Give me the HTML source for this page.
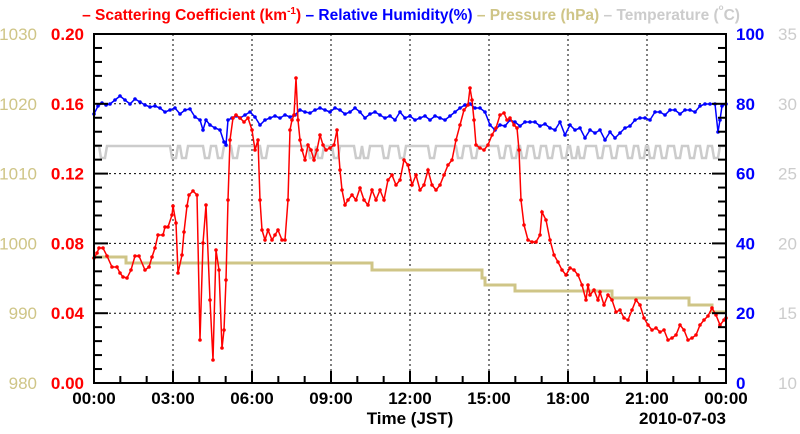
<!DOCTYPE html>
<html><head><meta charset="utf-8"><style>
body{margin:0;background:#fff;}
svg{display:block;font-family:"Liberation Sans",sans-serif;font-weight:bold;}
</style></head><body>
<svg id="s" width="800" height="434" viewBox="0 0 800 434" xmlns="http://www.w3.org/2000/svg">
<text y="20" font-size="15.5" x="411" text-anchor="middle"><tspan fill="#f00">– Scattering Coefficient (km<tspan font-size="10" dy="-6">-1</tspan><tspan dy="6">)</tspan></tspan><tspan fill="#00f"> – Relative Humidity(%)</tspan><tspan fill="#cfc587"> – Pressure (hPa)</tspan><tspan fill="#ccc"> – Temperature (</tspan><tspan fill="#ccc" font-size="8" dy="-10">o</tspan><tspan fill="#ccc" dy="10">C)</tspan></text>
<g id="grid" stroke="#000" stroke-dasharray="2,3" stroke-width="1"></g>
<g id="data"></g>
<rect x="94" y="34" width="632" height="349" fill="none" stroke="#000" stroke-width="2"/>
<g id="ticks" stroke="#000" stroke-width="2"></g>
<g id="labels" font-size="17"></g>
<text x="410" y="424" font-size="17" text-anchor="middle">Time (JST)</text>
<text x="726" y="424" font-size="17" text-anchor="end">2010-07-03</text>
</svg>
<script>
var NS="http://www.w3.org/2000/svg";
function el(p,t,a,txt){var e=document.createElementNS(NS,t);for(var k in a)e.setAttribute(k,a[k]);if(txt!==undefined)e.textContent=txt;document.getElementById(p).appendChild(e);return e;}
var L=94,R=726,T=34,B=383,dx=(R-L)/8,dy=(B-T)/5;
for(var i=1;i<8;i++)el("grid","line",{x1:L+i*dx,x2:L+i*dx,y1:T,y2:B});
for(var j=1;j<5;j++)el("grid","line",{x1:L,x2:R,y1:T+j*dy,y2:T+j*dy});
for(var i=1;i<24;i++){var x=L+i*(R-L)/24;el("ticks","line",{x1:x,x2:x,y1:B,y2:B-(i%3==0?12:7)});}
for(var j=1;j<25;j++){var y=B-j*(B-T)/25;var lg=j%5==0?14:8;el("ticks","line",{x1:L,x2:L+lg,y1:y,y2:y});el("ticks","line",{x1:R,x2:R-lg,y1:y,y2:y});}
var hrs=["00:00","03:00","06:00","09:00","12:00","15:00","18:00","21:00","00:00"];
for(var i=0;i<9;i++)el("labels","text",{x:L+i*dx,y:404,"text-anchor":"middle",fill:"#000"},hrs[i]);
for(var j=0;j<6;j++){var y=B-j*dy+6;
el("labels","text",{x:37,y:y,"text-anchor":"end",fill:"#cfc587","font-weight":"normal"},String(980+10*j));
el("labels","text",{x:84,y:y,"text-anchor":"end",fill:"#f00"},(0.04*j).toFixed(2));
el("labels","text",{x:736,y:y,"text-anchor":"start",fill:"#00f"},String(20*j));
el("labels","text",{x:778,y:y,"text-anchor":"start",fill:"#ccc","font-weight":"normal"},String(10+5*j));}
var P=[[94,257],[126,257],[126,263],[372,263],[372,270],[482,270],[482,278],[485,278],[485,285],[515,285],[515,291],[612,291],[612,298],[689,298],[689,305],[712,305],[712,312],[726,312]];
el("data","polyline",{points:P.join(" "),fill:"none",stroke:"#cfc587","stroke-width":3});
var dips=[101,172,182,205,218,233,262,310,318,334,356,364,384,400,430,458,472,500,512,522,535,548,562,572,580,598,612,628,640,650,662,676,690,702,714];
var tp=[[94,146]];dips.forEach(function(d){tp.push([d-2,146],[d,158],[d+4,158],[d+6,146]);});tp.push([726,146]);
el("data","polyline",{points:tp.join(" "),fill:"none",stroke:"#ccc","stroke-width":2.5});
var blue=[[94,114],[98,106],[102,103],[106,105],[110,104],[115,100],[120,96],[125,100],[130,104],[135,99],[140,102],[145,105],[150,107],[155,106],[160,108],[165,112],[170,110],[175,108],[180,114],[185,110],[190,109],[195,117],[200,120],[203,130],[206,120],[210,125],[215,128],[220,130],[224,142],[226,145],[228,120],[232,118],[236,116],[240,118],[245,115],[250,112],[255,117],[260,125],[265,120],[270,118],[275,116],[280,118],[285,115],[290,117],[295,115],[300,110],[305,112],[310,113],[315,110],[320,108],[325,110],[330,112],[335,108],[340,110],[345,114],[350,112],[355,108],[360,112],[365,118],[370,114],[375,112],[380,115],[385,118],[390,116],[395,120],[400,112],[405,118],[410,116],[415,120],[420,118],[425,116],[430,120],[435,116],[440,118],[445,120],[450,116],[455,112],[460,108],[465,105],[470,104],[475,108],[480,108],[485,112],[490,125],[495,130],[500,125],[505,126],[510,120],[515,122],[520,126],[525,122],[530,122],[535,122],[540,126],[545,124],[550,128],[555,130],[560,122],[565,135],[570,125],[575,130],[580,128],[585,138],[590,130],[595,133],[600,130],[605,140],[610,132],[615,138],[620,133],[625,128],[630,126],[635,120],[640,118],[645,118],[650,120],[655,112],[660,112],[665,115],[670,110],[675,110],[680,114],[685,110],[690,110],[695,112],[700,106],[705,104],[710,104],[715,104],[718,132],[720,120],[722,106],[726,104]];
var red=[[94,258],[97,253],[99,248],[103,248],[107,256],[112,267],[117,267],[120,273],[123,277],[127,278],[131,270],[135,256],[139,256],[145,270],[149,267],[152,257],[155,248],[158,235],[163,235],[165,227],[168,227],[172,215],[173,206],[176,223],[178,273],[182,255],[184,232],[187,206],[189,195],[193,191],[197,195],[200,340],[203,243],[206,205],[210,300],[213,360],[216,250],[219,270],[222,348],[224,330],[226,280],[228,200],[230,140],[233,118],[236,115],[240,118],[244,122],[248,118],[252,130],[255,150],[258,140],[260,200],[262,230],[265,240],[268,230],[272,240],[275,235],[278,230],[282,240],[285,240],[288,200],[290,130],[292,120],[294,115],[296,78],[298,120],[300,140],[302,150],[305,160],[308,145],[311,150],[314,160],[317,150],[320,135],[323,145],[326,150],[330,148],[334,145],[337,130],[340,170],[342,190],[345,205],[348,200],[352,195],[356,200],[360,188],[364,200],[368,205],[372,190],[376,200],[380,190],[384,200],[388,180],[392,175],[396,185],[400,180],[404,160],[408,165],[412,185],[416,175],[420,190],[424,185],[428,170],[432,185],[436,190],[440,185],[444,175],[448,165],[452,160],[456,140],[460,125],[464,110],[468,105],[470,88],[472,100],[474,120],[476,145],[480,148],[484,150],[488,145],[492,135],[496,128],[500,115],[504,113],[507,120],[510,118],[514,125],[517,128],[519,150],[521,200],[524,225],[528,240],[532,242],[536,242],[540,235],[542,212],[546,220],[550,240],[554,255],[558,262],[562,270],[566,275],[570,268],[574,270],[578,275],[582,285],[586,300],[588,285],[590,295],[594,290],[598,300],[600,292],[604,305],[608,295],[612,300],[616,312],[620,310],[624,318],[628,320],[632,310],[636,300],[640,305],[644,318],[648,325],[652,330],[656,328],[660,332],[664,330],[668,340],[672,338],[676,335],[680,325],[684,330],[688,340],[692,338],[696,335],[700,325],[704,320],[708,316],[712,308],[716,315],[720,325],[724,320],[726,318]];
function series(pts,c){el("data","polyline",{points:pts.join(" "),fill:"none",stroke:c,"stroke-width":1.5});pts.forEach(function(p){el("data","circle",{cx:p[0],cy:p[1],r:1.8,fill:c});});}
series(blue,"#00f");series(red,"#f00");
</script>
</body></html>
